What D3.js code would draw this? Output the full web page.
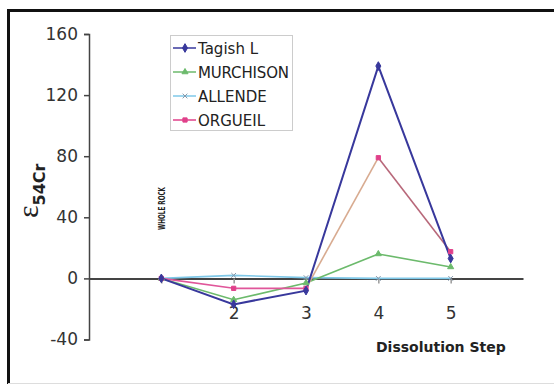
<!DOCTYPE html>
<html>
<head>
<meta charset="utf-8">
<script src="https://cdn.jsdelivr.net/npm/d3@7"></script>
<style>
  body { margin: 0; background: #fff; }
  svg { display: block; font-family: "DejaVu Sans", Verdana, sans-serif; }
</style>
</head>
<body>
<svg id="chart" width="554" height="386"></svg>
<script>
// dissolution steps (step 1 = whole rock)
const steps = [1, 2, 3, 4, 5];
const stepLabels = ["", "2", "3", "4", "5"];
const yTicks = [-40, 0, 40, 80, 120, 160];

const tagish = [0, -17, -8, 139, 13];
const murchison = [0, -14, -3, 16, 7.5];
const allende = [0, 2, 0.5, 0, 0];
const orgueil = [0, -6.5, -6.5, 79, 17.5];

const series = [
  { name: "Tagish L", values: tagish, color: "#38389c", shape: "diamond" },
  { name: "MURCHISON", values: murchison, color: "#6cba6c", shape: "triangle" },
  { name: "ALLENDE", values: allende, color: "#7fc8e8", shape: "cross" },
  { name: "ORGUEIL", values: orgueil, color: "#e0408a", shape: "square",
    segColors: ["#e0569a", "#e0569a", "#d8ab90", "#b8687a"] }
];

const svg = d3.select("#chart");

// outer frame (cropped on right)
svg.append("line").attr("x1", 8).attr("x2", 554).attr("y1", 10.5).attr("y2", 10.5)
  .attr("stroke", "#111").attr("stroke-width", 3);
svg.append("line").attr("x1", 8.5).attr("x2", 8.5).attr("y1", 9).attr("y2", 384)
  .attr("stroke", "#111").attr("stroke-width", 3);
svg.append("line").attr("x1", 8).attr("x2", 554).attr("y1", 383.5).attr("y2", 383.5)
  .attr("stroke", "#ddd").attr("stroke-width", 1);

let x = d3.scaleLinear().domain([0, 6]).range([89, 523]);
let y = d3.scaleLinear().domain([-40, 160]).range([339.5, 34]);

// y axis
let yAxis = d3.axisLeft(y).tickValues(yTicks).tickSize(5).tickPadding(6).tickFormat(d => String(d));
let gY = svg.append("g").attr("transform", `translate(${x(0)},0)`).call(yAxis);
gY.select(".domain").attr("stroke", "#444").attr("stroke-width", 1.5);
gY.selectAll(".tick line").attr("stroke", "#444").attr("stroke-width", 1.5);
gY.selectAll("text").attr("font-size", 17).attr("fill", "#333")
  .attr("font-family", "DejaVu Sans, sans-serif");

// x axis along zero
let xAxis = d3.axisBottom(x).tickValues(steps).tickSize(5).tickPadding(24)
  .tickFormat((d, i) => stepLabels[i]).tickSizeOuter(0);
let gX = svg.append("g").attr("transform", `translate(0,${y(0)})`).call(xAxis);
gX.select(".domain").attr("stroke", "#444").attr("stroke-width", 2);
gX.selectAll(".tick line").attr("stroke", "#999").attr("stroke-width", 1.5);
gX.selectAll("text").attr("font-size", 17).attr("fill", "#333")
  .attr("font-family", "DejaVu Sans, sans-serif");

// whole rock label
svg.append("text")
  .attr("transform", `translate(${x(1) + 3.5},230) rotate(-90)`)
  .attr("font-size", 9).attr("font-weight", "bold").attr("fill", "#222")
  .attr("textLength", 43).attr("lengthAdjust", "spacingAndGlyphs")
  .text("WHOLE ROCK");

// lines
let symbols = {
  diamond: d3.symbol().type(d3.symbolDiamond).size(22),
  triangle: d3.symbol().type(d3.symbolTriangle).size(16),
  cross: d3.symbol().type(d3.symbolX).size(16),
  square: d3.symbol().type(d3.symbolSquare).size(18)
};

let drawOrder = [2, 1, 3, 0];
drawOrder.forEach(si => {
  let s = series[si];
  let pts = steps.map((st, i) => [x(st), y(s.values[i])]);
  if (s.segColors) {
    for (let i = 0; i < pts.length - 1; i++) {
      svg.append("line")
        .attr("x1", pts[i][0]).attr("y1", pts[i][1])
        .attr("x2", pts[i + 1][0]).attr("y2", pts[i + 1][1])
        .attr("stroke", s.segColors[i]).attr("stroke-width", 1.6);
    }
  } else {
    svg.append("path")
      .attr("d", d3.line()(pts))
      .attr("fill", "none")
      .attr("stroke", s.color)
      .attr("stroke-width", si == 0 ? 2 : 1.6);
  }
});
drawOrder.forEach(si => {
  let s = series[si];
  svg.selectAll(null).data(s.values).enter().append("path")
    .attr("d", symbols[s.shape])
    .attr("transform", (d, i) => `translate(${x(steps[i])},${y(d)})`)
    .attr("fill", s.shape == "cross" ? "none" : s.color)
    .attr("stroke", s.shape == "cross" ? "#8899aa" : s.color)
    .attr("stroke-width", 1);
});

// legend
let legend = svg.append("g");
legend.append("rect").attr("x", 170.5).attr("y", 35.5).attr("width", 122).attr("height", 95)
  .attr("fill", "#fff").attr("stroke", "#ccc");
series.forEach((s, i) => {
  let ly = 48 + i * 24;
  legend.append("line").attr("x1", 173).attr("x2", 196).attr("y1", ly).attr("y2", ly)
    .attr("stroke", s.color).attr("stroke-width", 1.5);
  legend.append("path").attr("d", symbols[s.shape])
    .attr("transform", `translate(185,${ly})`)
    .attr("fill", s.shape == "cross" ? "none" : s.color)
    .attr("stroke", s.shape == "cross" ? "#8899aa" : s.color);
  legend.append("text").attr("x", 198).attr("y", ly + 5.5)
    .attr("font-size", 15).attr("fill", "#222")
    .attr("textLength", i == 1 ? 91 : null).text(s.name);
});

// axis titles
let yt = svg.append("text")
  .attr("transform", "translate(38,218) rotate(-90)")
  .attr("fill", "#222");
yt.append("tspan").attr("font-family", "Liberation Serif, serif").attr("font-size", 30).text("ε");
yt.append("tspan").attr("font-size", 16).attr("font-weight", "bold").attr("dy", 7).text("54Cr");

svg.append("text").attr("x", 376).attr("y", 352)
  .attr("font-size", 14).attr("font-weight", "bold").attr("fill", "#222")
  .text("Dissolution Step");
</script>
</body>
</html>
